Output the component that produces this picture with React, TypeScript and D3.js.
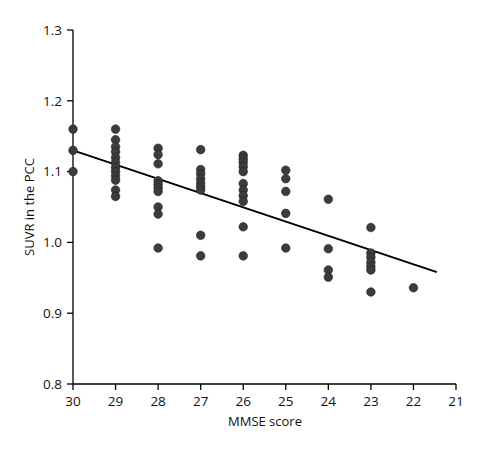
import React from "react";
import * as d3 from "d3";

const mmse: number[] = [30, 29, 28, 27, 26, 25, 24, 23, 22];
const suvr: number[][] = [
  [1.16, 1.13, 1.10],
  [1.16, 1.145, 1.135, 1.128, 1.12, 1.113, 1.106, 1.10, 1.094, 1.088, 1.074, 1.065],
  [1.133, 1.124, 1.111, 1.087, 1.082, 1.077, 1.072, 1.05, 1.04, 0.992],
  [1.131, 1.103, 1.097, 1.09, 1.084, 1.079, 1.074, 1.01, 0.981],
  [1.123, 1.118, 1.113, 1.107, 1.1, 1.083, 1.074, 1.066, 1.058, 1.022, 0.981],
  [1.102, 1.09, 1.072, 1.041, 0.992],
  [1.061, 0.991, 0.961, 0.951],
  [1.021, 0.985, 0.979, 0.972, 0.966, 0.961, 0.93],
  [0.936],
];
const fitX: number[] = [30, 21.45];
const fitY: number[] = [1.13, 0.958];
const xTicks: number[] = [30, 29, 28, 27, 26, 25, 24, 23, 22, 21];
const yTicks: number[] = [0.8, 0.9, 1.0, 1.1, 1.2, 1.3];

export default function App() {
  const W = 499, H = 450;
  const x = d3.scaleLinear().domain([30, 21]).range([73, 456]);
  const y = d3.scaleLinear().domain([0.8, 1.3]).range([384, 30]);
  const font = "'Open Sans', 'Noto Sans', sans-serif";
  const pts: { x: number; y: number }[] = [];
  mmse.forEach((m, i) => suvr[i].forEach((v) => pts.push({ x: m, y: v })));
  const line = d3.line<number>().x((d) => x(fitX[d])).y((d) => y(fitY[d]));
  return (
    <svg width={W} height={H} style={{ position: "absolute", left: 0, top: 0, background: "#fff" }}>
      <line x1={73} x2={73} y1={y(1.3)} y2={y(0.8)} stroke="#000" strokeWidth={1.3} />
      <line x1={x(30)} x2={x(21)} y1={384} y2={384} stroke="#000" strokeWidth={1.3} />
      {yTicks.map((t) => (
        <g key={"y" + t}>
          <line x1={67} x2={73} y1={y(t)} y2={y(t)} stroke="#000" strokeWidth={1.3} />
          <text x={62} y={y(t)} dy="0.35em" textAnchor="end" fontFamily={font} fontSize={13.5} fill="#111">
            {t.toFixed(1)}
          </text>
        </g>
      ))}
      {xTicks.map((t) => (
        <g key={"x" + t}>
          <line x1={x(t)} x2={x(t)} y1={384} y2={390} stroke="#000" strokeWidth={1.3} />
          <text x={x(t)} y={406} textAnchor="middle" fontFamily={font} fontSize={13.5} fill="#111">
            {t}
          </text>
        </g>
      ))}
      <text x={265} y={426} textAnchor="middle" fontFamily={font} fontSize={13} fill="#111">
        MMSE score
      </text>
      <text
        transform={`translate(34,${(y(1.3) + y(0.8)) / 2}) rotate(-90)`}
        textAnchor="middle"
        fontFamily={font}
        fontSize={13}
        fill="#111"
      >
        SUVR in the PCC
      </text>
      <path d={line([0, 1]) || ""} stroke="#000" strokeWidth={2} fill="none" />
      {pts.map((p, i) => (
        <circle key={i} cx={x(p.x)} cy={y(p.y)} r={4.3} fill="#3c3c3c" stroke="#222" strokeWidth={0.6} />
      ))}
    </svg>
  );
}
